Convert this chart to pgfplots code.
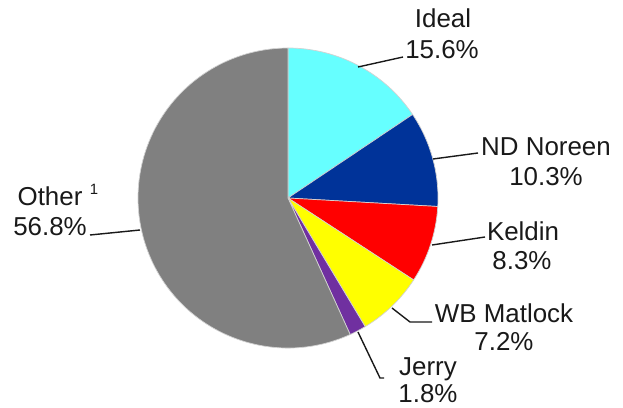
\documentclass[border=0pt]{standalone}
\usepackage{pgfplots}
\pgfplotsset{compat=1.18}
\usepackage{pgfplotstable}
\usepackage{fontspec}
\setmainfont{Liberation Sans}

\definecolor{cIdeal}{RGB}{102,255,255}
\definecolor{cNoreen}{RGB}{0,51,153}
\definecolor{cKeldin}{RGB}{255,0,0}
\definecolor{cMatlock}{RGB}{255,255,0}
\definecolor{cJerry}{RGB}{112,48,160}
\definecolor{cOther}{RGB}{128,128,128}
\definecolor{txt}{RGB}{25,25,25}

% share of each producer, clockwise from 12 o'clock
\pgfplotstableread{
label     pct   col
Ideal     15.6  cIdeal
NDNoreen  10.3  cNoreen
Keldin     8.3  cKeldin
WBMatlock  7.2  cMatlock
Jerry      1.8  cJerry
Other     56.8  cOther
}\piedata

\begin{document}
\begin{tikzpicture}
\begin{axis}[
    width=623bp, height=408bp,
    scale only axis,
    xmin=0, xmax=623,
    ymin=0, ymax=408,
    y dir=reverse,
    hide axis,
    clip=false,
    ]
    \pgfplotsextra{
        \pgfplotstablegetrowsof{\piedata}
        \pgfmathtruncatemacro\nrows{\pgfplotsretval-1}
        \gdef\cum{0}
        \foreach \i in {0,...,\nrows}{
            \pgfplotstablegetelem{\i}{pct}\of\piedata \let\slpct\pgfplotsretval
            \pgfplotstablegetelem{\i}{col}\of\piedata \let\slcol\pgfplotsretval
            \pgfmathsetmacro\sa{90-3.6*\cum}
            \pgfmathsetmacro\sb{90-3.6*(\cum+\slpct)}
            \filldraw[fill=\slcol, draw=gray!35, line width=0.7bp]
                (axis cs:288,198) -- ++(\sa:150bp)
                arc[start angle=\sa, end angle=\sb, radius=150bp] -- cycle;
            \pgfmathsetmacro\nxt{\cum+\slpct}
            \xdef\cum{\nxt}
        }
    }

    % leader lines
    \begin{scope}[every path/.style={draw=txt, line width=1.4bp}]
        \draw (axis cs:358,67) -- (axis cs:403,57);
        \draw (axis cs:433,159) -- (axis cs:478,153);
        \draw (axis cs:432,245) -- (axis cs:485,237);
        \draw (axis cs:392,308) -- (axis cs:410,322) -- (axis cs:432,322);
        \draw (axis cs:358,332) -- (axis cs:380,378) -- (axis cs:384,378);
        \draw (axis cs:90,235) -- (axis cs:140,230);
    \end{scope}

    % labels
    \begin{scope}[every node/.style={anchor=base, inner sep=0pt, text=txt,
            font=\fontsize{26}{30}\selectfont}]
        \node at (axis cs:443,28) {Ideal};
        \node at (axis cs:442,58) {15.6\%};
        \node at (axis cs:546,155) {ND Noreen};
        \node at (axis cs:546,185) {10.3\%};
        \node at (axis cs:523,240) {Keldin};
        \node at (axis cs:522,269) {8.3\%};
        \node at (axis cs:504,322) {WB Matlock};
        \node at (axis cs:504,350) {7.2\%};
        \node at (axis cs:428,375) {Jerry};
        \node at (axis cs:428,402) {1.8\%};
        \node at (axis cs:50,205) {Other};
        \node at (axis cs:50,235) {56.8\%};
        \node[font=\fontsize{15}{17}\selectfont] at (axis cs:94,194) {1};
    \end{scope}
\end{axis}
\pgfresetboundingbox
\useasboundingbox (current axis.south west) rectangle (current axis.north east);
\end{tikzpicture}
\end{document}
